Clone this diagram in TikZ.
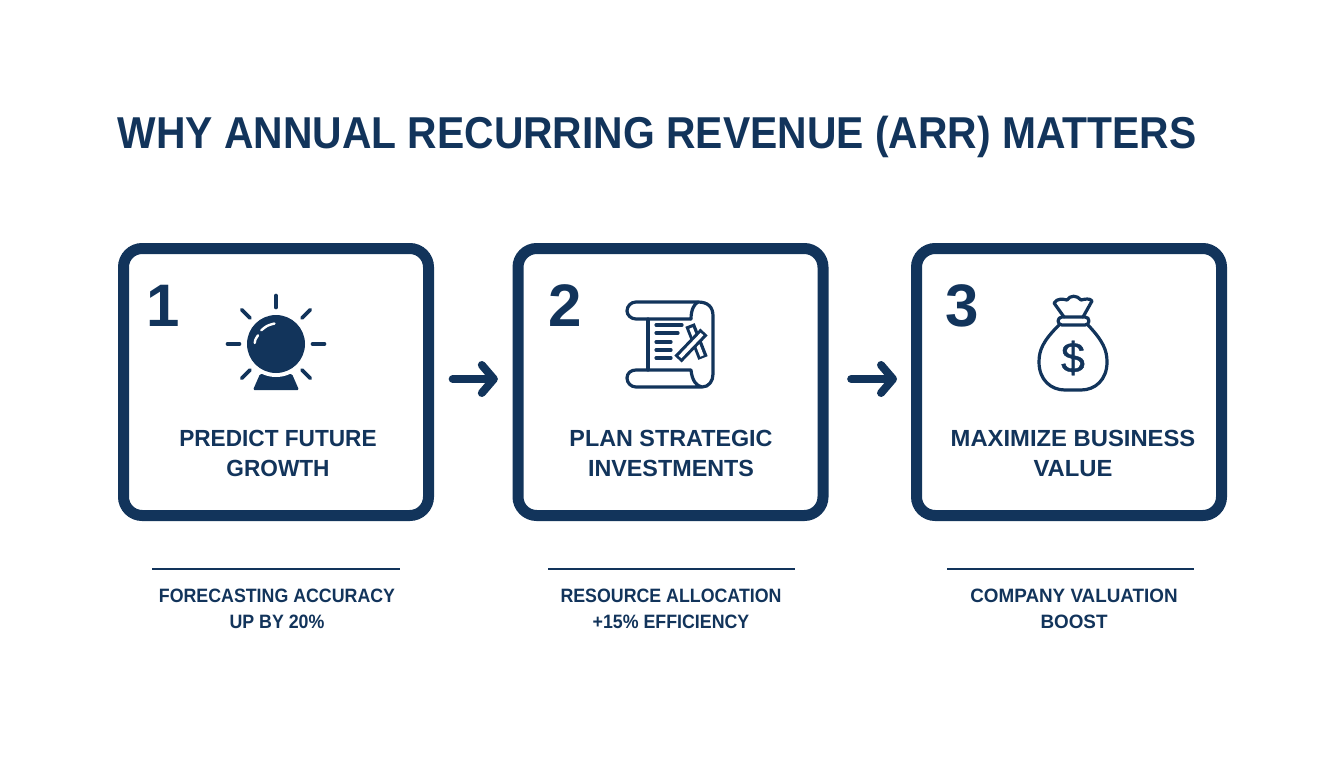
\documentclass[tikz,border=0pt]{standalone}
\usepackage{fontspec}
\setmainfont{Liberation Sans}
\usetikzlibrary{arrows.meta}
\definecolor{navy}{HTML}{12345B}
\tikzset{
  stepbox/.style={draw=navy,line width=8.25pt,rounded corners=14pt,minimum width=228.75pt,minimum height=200.25pt},
  flowarrow/.style={draw=navy,line width=6pt,line cap=round,-{Straight Barb[round,length=9pt,width=21pt]}},
  numlabel/.style={text=navy,font=\fontsize{45}{45}\bfseries\selectfont},
  steplabel/.style={text=navy,align=center,font=\fontsize{17.5}{22.5}\bfseries\selectfont\addfontfeature{FakeStretch=#1}},
  steplabel/.default=1,
  noteline/.style={draw=navy,line width=1.5pt},
  notelabel/.style={text=navy,align=center,font=\fontsize{14.5}{19.5}\bfseries\selectfont\addfontfeature{FakeStretch=#1}},
  notelabel/.default=.92,
  iconline/.style={draw=navy,line width=2.4pt,line cap=round,line join=round}
}
\providecommand{\CrystalBall}[1]{
\begin{scope}[shift={(#1)}]
\foreach \ang in {0,45,135,180,225,270,315} \draw[navy,line width=2.7pt,line cap=round] (\ang:36.5) -- (\ang:48.5);
\fill[navy,rounded corners=1pt] (-23,46) -- (-16,30) -- (16,30) -- (23,46) -- cycle;
\fill[white] (0,0) circle (33);
\fill[navy] (0,0) circle (29);
\draw[white,line width=1.8pt,line cap=round] (-14.7,-13.7) .. controls (-9,-18.5) .. (-1.5,-20.5);
\draw[white,line width=1.8pt,line cap=round] (-21.3,-1) .. controls (-21,-4) .. (-18,-8.7);
\end{scope}
}
\providecommand{\ScrollIcon}[1]{
\begin{scope}[shift={(#1)}]
\draw[iconline] (21,-24) -- (-34,-24) .. controls (-39,-24) and (-43,-28) .. (-43,-32) .. controls (-43,-37) and (-39,-41) .. (-34,-41)
  -- (28,-41) .. controls (38,-41) and (43,-36) .. (43,-27) -- (43,31) .. controls (43,38) and (39,44) .. (32,44) -- (-34,44)
  .. controls (-39,44) and (-43,40) .. (-43,35) .. controls (-43,30) and (-39,27) .. (-34,27) -- (21,27) .. controls (22,37) and (26,43) .. (32,44);
\draw[iconline] (21,-24) .. controls (21,-33) and (24,-39) .. (28,-41);
\draw[iconline] (-22,-24) -- (-22,27);
\draw[iconline] (-14,-18) -- (12,-18);
\draw[iconline] (-14,-10) -- (8,-10);
\foreach \rowy in {-1,7,15} \draw[iconline] (-14,\rowy) -- (1,\rowy);
\draw[navy,line width=7.5pt] (20,-18) -- (33,15);
\draw[white,line width=2.8pt] (21,-15) -- (32,13);
\draw[navy,line width=7.5pt] (8,16) -- (34,-11);
\draw[white,line width=2.8pt] (10,14) -- (32,-9);
\end{scope}
}
\providecommand{\MoneyBag}[1]{
\begin{scope}[shift={(#1)}]
\draw[iconline] (-14,-33) .. controls (-30,-17) and (-34,-8) .. (-34,4) .. controls (-34,22) and (-22,32) .. (-8,32) -- (8,32)
  .. controls (22,32) and (34,22) .. (34,4) .. controls (34,-8) and (30,-17) .. (15,-33);
\draw[iconline,rounded corners=3pt] (-15,-41) rectangle (16,-33);
\draw[iconline] (-9,-41) -- (-19,-55) .. controls (-16,-60) and (-10,-59) .. (-6,-58) .. controls (-3,-63) and (4,-63) .. (8,-58)
  .. controls (12,-59) and (17,-60) .. (19,-57) -- (10,-41);
\end{scope}
}
\begin{document}
\begin{tikzpicture}[x=.75pt,y=-.75pt]
\useasboundingbox (0,0) rectangle (1344,768);
\node[text=navy,font=\fontsize{33.5}{40}\bfseries\selectfont\addfontfeature{FakeStretch=.914}] (title) at (657,137) {WHY ANNUAL RECURRING REVENUE (ARR) MATTERS};
% boxes
\node[stepbox] (box1) at (276,382) {};
\node[stepbox] (box2) at (670.5,382) {};
\node[stepbox] (box3) at (1069,382) {};
\draw[flowarrow,shorten <=14pt,shorten >=11pt] ([yshift=2.25pt]box1.east) -- ([yshift=2.25pt]box2.west);
\draw[flowarrow,shorten <=17pt,shorten >=10.5pt] ([yshift=2.25pt]box2.east) -- ([yshift=2.25pt]box3.west);
\node[numlabel] (num1) at (163,306) {1};
\node[numlabel] (num2) at (565,306) {2};
\node[numlabel] (num3) at (962,306) {3};
\CrystalBall{276,344}
\ScrollIcon{670,343}
\MoneyBag{1073,358}
\node[text=navy,font=\fontsize{32}{32}\selectfont\addfontfeature{FakeBold=1}] (dollar) at (1073,358) {\$};
\node[steplabel=.97] (step1) at (278,453) {PREDICT FUTURE\\GROWTH};
\node[steplabel] (step2) at (671,453) {PLAN STRATEGIC\\INVESTMENTS};
\node[steplabel=1.02] (step3) at (1073,453) {MAXIMIZE BUSINESS\\VALUE};
% notes
\coordinate (rule1a) at (152,569);
\coordinate (rule1b) at (400,569);
\coordinate (rule2a) at (548,569);
\coordinate (rule2b) at (795,569);
\coordinate (rule3a) at (947,569);
\coordinate (rule3b) at (1194,569);
\draw[noteline] (rule1a) -- (rule1b);
\draw[noteline] (rule2a) -- (rule2b);
\draw[noteline] (rule3a) -- (rule3b);
\node[notelabel] (note1) at (277,609) {FORECASTING ACCURACY\\UP BY 20\%};
\node[notelabel] (note2) at (671,609) {RESOURCE ALLOCATION\\+15\% EFFICIENCY};
\node[notelabel=.975] (note3) at (1074,609) {COMPANY VALUATION\\BOOST};
\end{tikzpicture}
\end{document}
